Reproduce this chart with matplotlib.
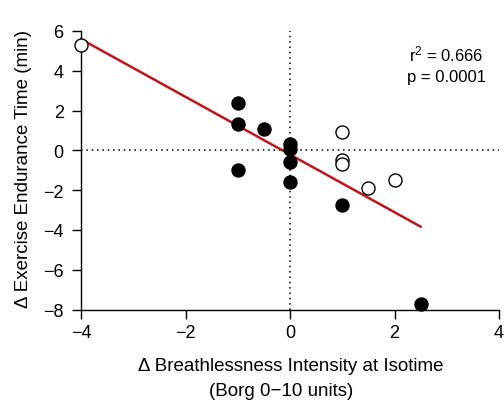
import matplotlib
matplotlib.use("Agg")
import matplotlib.pyplot as plt

plt.rcParams["font.family"] = ["Liberation Sans", "DejaVu Sans"]
plt.rcParams["mathtext.fontset"] = "custom"
plt.rcParams["mathtext.rm"] = "Liberation Sans"
plt.rcParams["mathtext.it"] = "Liberation Sans"

# filled circles
filled_x = [-1, -1, -0.5, -1, 0, 0, 0, 0, 1, 2.5]
filled_y = [2.4, 1.3, 1.07, -1.0, 0.3, 0.05, -0.57, -1.58, -2.77, -7.72]
# open circles
open_x = [-4, 1, 1, 1, 1.5, 2]
open_y = [5.28, 0.93, -0.47, -0.68, -1.91, -1.49]

# regression line
fit_slope = -1.45
fit_intercept = -0.21
fit_range = [-4, 2.5]

xticks = [-4, -2, 0, 2, 4]
yticks = [-8, -6, -4, -2, 0, 2, 4, 6]

W, H = 504, 402
fig, ax = plt.subplots(figsize=(W / 100, H / 100), dpi=100)
fig.subplots_adjust(left=81 / W, right=499 / W, top=1 - 32 / H, bottom=1 - 310.5 / H)

ax.axhline(0, color="black", ls=(0, (1, 2.5)), lw=1.1, zorder=1)
ax.axvline(0, color="black", ls=(0, (1, 2.5)), lw=1.1, zorder=1)

line_y = [fit_slope * x + fit_intercept for x in fit_range]
ax.plot(fit_range, line_y, color="#c0141e", lw=1.8, zorder=2, clip_on=False)

ax.scatter(filled_x, filled_y, s=88, color="black", zorder=3, clip_on=False)
ax.scatter(open_x, open_y, s=88, facecolor="white", edgecolor="black",
           linewidth=1.0, zorder=3, clip_on=False)

ax.set_xlim(-4, 4)
ax.set_ylim(-8, 6)
ax.set_xticks(xticks)
ax.set_yticks(yticks)
ax.set_xticklabels([str(t).replace("-", "\u2212") for t in xticks])
ax.set_yticklabels([str(t).replace("-", "\u2212") for t in yticks])
ax.tick_params(direction="out", length=6.5, width=1, labelsize=13)
ax.tick_params(axis="y", pad=6)
ax.tick_params(axis="x", pad=4)

for side in ["top", "right"]:
    ax.spines[side].set_visible(False)
for side in ["left", "bottom"]:
    ax.spines[side].set_linewidth(1)

# axis titles placed in figure pixels
fig.text(291 / W, 1 - 367 / H, "\u0394 Breathlessness Intensity at Isotime",
         ha="center", va="center", fontsize=13.5)
fig.text(281 / W, 1 - 392 / H, "(Borg 0\u221210 units)",
         ha="center", va="center", fontsize=13.5)
fig.text(24 / W, 1 - 169 / H, "\u0394 Exercise Endurance Time (min)",
         ha="center", va="center", rotation=90, fontsize=13.5)

ax.text(2.99, 4.88, "r$^{2}$ = 0.666", ha="center", va="center", fontsize=12)
ax.text(3.0, 3.73, "p = 0.0001", ha="center", va="center", fontsize=12)

fig.savefig("out.png", dpi=100)
